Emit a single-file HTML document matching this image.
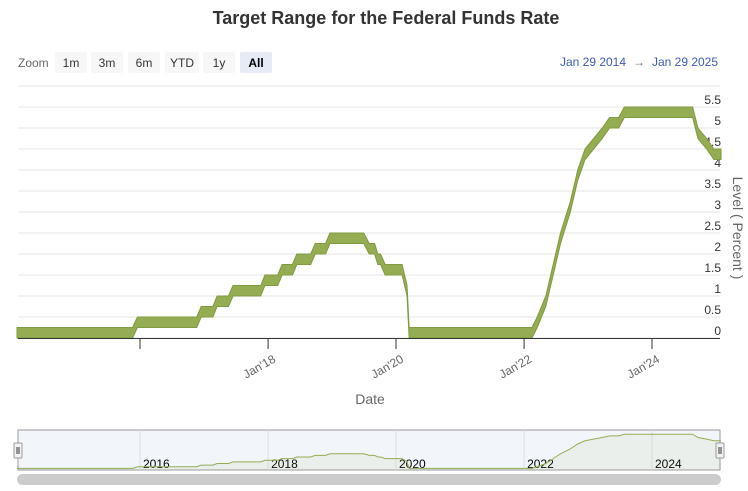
<!DOCTYPE html>
<html><head><meta charset="utf-8"><style>
body{margin:0;background:#fff;font-family:"Liberation Sans",sans-serif;}
svg{display:block}
</style></head><body>
<svg id="c" width="748" height="491" xmlns="http://www.w3.org/2000/svg">
<text x="386" y="24" text-anchor="middle" font-size="18" font-weight="bold" fill="#333">Target Range for the Federal Funds Rate</text>
<g font-size="12" fill="#333">
<text x="18" y="67" fill="#666">Zoom</text>
<g><rect x="55" y="52" width="32" height="21" rx="2" fill="#f7f7f7"/><text x="71" y="67" text-anchor="middle">1m</text></g>
<g><rect x="91" y="52" width="32" height="21" rx="2" fill="#f7f7f7"/><text x="107" y="67" text-anchor="middle">3m</text></g>
<g><rect x="128" y="52" width="32" height="21" rx="2" fill="#f7f7f7"/><text x="144" y="67" text-anchor="middle">6m</text></g>
<g><rect x="165" y="52" width="34" height="21" rx="2" fill="#f7f7f7"/><text x="182" y="67" text-anchor="middle">YTD</text></g>
<g><rect x="203" y="52" width="32" height="21" rx="2" fill="#f7f7f7"/><text x="219" y="67" text-anchor="middle">1y</text></g>
<g><rect x="240" y="52" width="32" height="21" rx="2" fill="#e6ebf5"/><text x="256" y="67" text-anchor="middle" font-weight="bold" fill="#000">All</text></g>
<text x="593" y="66" text-anchor="middle" fill="#3a5bb8">Jan 29 2014</text>
<text x="639" y="66" text-anchor="middle" fill="#666">→</text>
<text x="685" y="66" text-anchor="middle" fill="#3a5bb8">Jan 29 2025</text>
</g>
<g id="grid"></g><g id="plot"></g><g id="xax"></g><g id="nav"></g>
<text x="370" y="404" text-anchor="middle" font-size="14" fill="#666">Date</text>
<text transform="translate(733,228) rotate(90)" text-anchor="middle" font-size="14" fill="#666">Level ( Percent )</text>
</svg>
<script>
const dates=["2014-01-29","2015-11-20","2015-12-17","2016-11-20","2016-12-15","2017-02-20","2017-03-16","2017-05-20","2017-06-15","2017-11-20","2017-12-14","2018-02-25","2018-03-22","2018-05-20","2018-06-14","2018-09-01","2018-09-27","2018-11-25","2018-12-20","2019-07-01","2019-08-01","2019-09-01","2019-09-19","2019-10-05","2019-10-31","2020-02-05","2020-03-04","2020-03-16","2022-02-15","2022-03-17","2022-05-05","2022-06-16","2022-07-28","2022-09-22","2022-11-03","2022-12-15","2023-02-02","2023-03-23","2023-05-04","2023-06-25","2023-07-27","2024-08-20","2024-09-19","2024-11-08","2024-12-19","2025-01-29"];
const lows=[0,0,0.25,0.25,0.5,0.5,0.75,0.75,1,1,1.25,1.25,1.5,1.5,1.75,1.75,2,2,2.25,2.25,2,2,1.75,1.75,1.5,1.5,1,0,0,0.25,0.75,1.5,2.25,3,3.75,4.25,4.5,4.75,5,5,5.25,5.25,4.75,4.5,4.25,4.25];
const highs=lows.map(v=>v+0.25);
const yTicks=[0,0.5,1,1.5,2,2.5,3,3.5,4,4.5,5,5.5];
const xTickLabels=["Jan'18","Jan'20","Jan'22","Jan'24"];
const navLabels=["2016","2018","2020","2022","2024"];
const NS="http://www.w3.org/2000/svg";
const t0=Date.UTC(2016,0,1);
const yr=365.25*864e5;
const X=d=>140+(new Date(d)-t0)/yr*64;
const Y=v=>338-42*v;
const NY=v=>470-6.5*v;
function mk(p,tag,a){const e=document.createElementNS(NS,tag);for(const k in a)e.setAttribute(k,a[k]);p.appendChild(e);return e;}
const grid=document.getElementById('grid'),plot=document.getElementById('plot'),xax=document.getElementById('xax'),nav=document.getElementById('nav');
[...yTicks,6].forEach(v=>{
  const l=mk(grid,'line',{x1:18,x2:720,y1:Y(v),y2:Y(v),stroke:'#e6e6e6'});
  
  
});
yTicks.forEach(v=>{
  const t=mk(grid,'text',{x:721,y:Y(v)-3,'text-anchor':'end','font-size':12,fill:'#333'});t.textContent=v;
  
  
});
const topPts=dates.map((d,i)=>X(d)+','+Y(highs[i]));
const botPts=dates.map((d,i)=>X(d)+','+Y(lows[i])).reverse();
const area=mk(plot,'polygon',{points:topPts.concat(botPts).join(' '),fill:'#94ad52',stroke:'#7f9a40','stroke-width':1});


mk(xax,'line',{x1:18,x2:720,y1:338.5,y2:338.5,stroke:'#333'});
[2016,2018,2020,2022,2024].forEach(y=>{
  const x=X(y+"-01-01");
  mk(xax,'line',{x1:x,x2:x,y1:338,y2:349,stroke:'#333'});
});
xTickLabels.forEach((s,i)=>{
  const x=X((2018+2*i)+"-01-01");
  const t=mk(xax,'text',{transform:`translate(${x+3},${352}) rotate(-30)`,'text-anchor':'end','font-size':12,fill:'#666',dy:'0.9em'});t.textContent=s;
  
  
});
const bg=mk(nav,'rect',{x:18,y:430,width:702,height:40,fill:'#f2f5f9',stroke:'#999'});


navLabels.forEach(s=>{
  const x=X(s+"-01-01");
  mk(nav,'line',{x1:x,x2:x,y1:430,y2:470,stroke:'#dde'});
  const t=mk(nav,'text',{x:x+3,y:468,'font-size':12,fill:'#000'});t.textContent=s;
  
  
});
const np=dates.map((d,i)=>X(d)+','+NY(highs[i]));
mk(nav,'polygon',{points:np.join(' ')+` ${X(dates[dates.length-1])},470 ${X(dates[0])},470`,fill:'rgba(148,173,82,0.08)'});
const nl=mk(nav,'polyline',{points:np.join(' '),fill:'none',stroke:'#94ad52','stroke-width':1});


[18,720].forEach((x,i)=>{
  const h=mk(nav,'rect',{x:x-4,y:443,width:8,height:15,rx:1,fill:'#f2f2f2',stroke:'#999'});
  
  
  mk(nav,'line',{x1:x-1,x2:x-1,y1:447,y2:454,stroke:'#333'});
  mk(nav,'line',{x1:x+1,x2:x+1,y1:447,y2:454,stroke:'#333'});
});
const sb=mk(nav,'rect',{x:17,y:474,width:704,height:11,rx:5.5,fill:'#cccccc'});


</script>
</body></html>
